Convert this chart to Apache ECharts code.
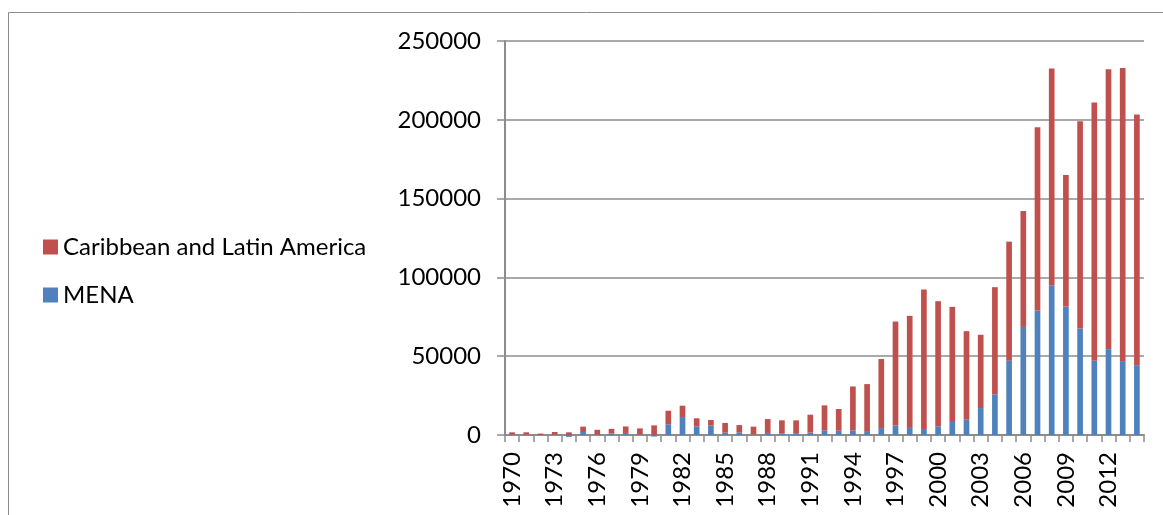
<!DOCTYPE html>
<html>
<head>
<meta charset="utf-8">
<style>
  html, body { margin: 0; padding: 0; background: #ffffff; }
  #chart { width: 1163px; height: 515px; }
</style>
<script src="https://cdn.jsdelivr.net/npm/echarts@6/dist/echarts.min.js"></script>
</head>
<body>
<div id="chart"></div>
<script>
// Years on the category axis
const years = [];
for (let y = 1970; y <= 2014; y++) years.push(String(y));

// MENA (bottom of each stack)
const mena = [
  300, 200, 0, 200, -1200, 1900, 300, 1000, 1300, 300,
  -1000, 6800, 11400, 5500, 6000, 1500, 1700, 400, 1300, 1100,
  800, 1500, 3000, 2700, 3000, 2500, 4400, 6100, 4500, 3800,
  5500, 8900, 9700, 17100, 25800, 47100, 68600, 79000, 95000, 81500,
  67600, 47100, 54500, 46900, 44300
];

// Caribbean and Latin America (stacked on top)
const caribbean = [
  1400, 1500, 900, 1700, 1700, 3400, 3000, 2900, 4100, 3900,
  6100, 8600, 7200, 5100, 3500, 6100, 4600, 4900, 8800, 8200,
  8500, 11400, 15800, 13800, 27800, 29800, 43800, 65900, 71100, 88600,
  79400, 72400, 56200, 46500, 68000, 75600, 73500, 116300, 137500, 83400,
  131500, 163900, 177600, 186000, 159100
];

const FONT = 'Lato, "Open Sans", sans-serif';
const GRID_GREY = '#8c8c8c';

const chart = echarts.init(document.getElementById('chart'));
chart.setOption({
  animation: false,
  backgroundColor: '#ffffff',
  graphic: [{
    type: 'rect',
    silent: true,
    shape: { x: 8.5, y: 12.5, width: 1300, height: 700 },
    style: { fill: 'none', stroke: '#8c8c8c', lineWidth: 1 }
  }],
  legend: {
    orient: 'vertical',
    left: 38,
    top: 230,
    itemWidth: 15,
    itemHeight: 15,
    itemGap: 24,
    icon: 'rect',
    data: ['Caribbean and Latin America', 'MENA'],
    textStyle: { fontFamily: FONT, fontSize: 24, color: '#000', padding: [0, 0, 0, 0] }
  },
  grid: { left: 505, right: 19, top: 41, bottom: 80, containLabel: false },
  xAxis: {
    type: 'category',
    data: years,
    axisLine: { lineStyle: { color: GRID_GREY, width: 2 } },
    axisTick: { show: true, interval: 0, length: 7, lineStyle: { color: GRID_GREY, width: 1.5 } },
    axisLabel: {
      interval: 2,
      rotate: 90,
      margin: 17,
      fontFamily: FONT,
      fontSize: 24,
      color: '#000'
    }
  },
  yAxis: {
    type: 'value',
    min: 0,
    max: 250000,
    interval: 50000,
    axisLine: { show: true, lineStyle: { color: GRID_GREY, width: 2 } },
    axisTick: { show: true, length: 8, lineStyle: { color: GRID_GREY, width: 1.5 } },
    splitLine: { lineStyle: { color: GRID_GREY, width: 1.5 } },
    axisLabel: {
      margin: 24,
      fontFamily: FONT,
      fontSize: 24,
      color: '#000',
      formatter: (v) => String(v)
    }
  },
  series: [
    {
      name: 'MENA',
      type: 'bar',
      stack: 'total',
      barWidth: '40%',
      clip: false,
      data: mena,
      itemStyle: { color: '#4f81bd' }
    },
    {
      name: 'Caribbean and Latin America',
      type: 'bar',
      stack: 'total',
      barWidth: '40%',
      clip: false,
      data: caribbean,
      itemStyle: { color: '#c0504d' }
    }
  ]
});
</script>
</body>
</html>
